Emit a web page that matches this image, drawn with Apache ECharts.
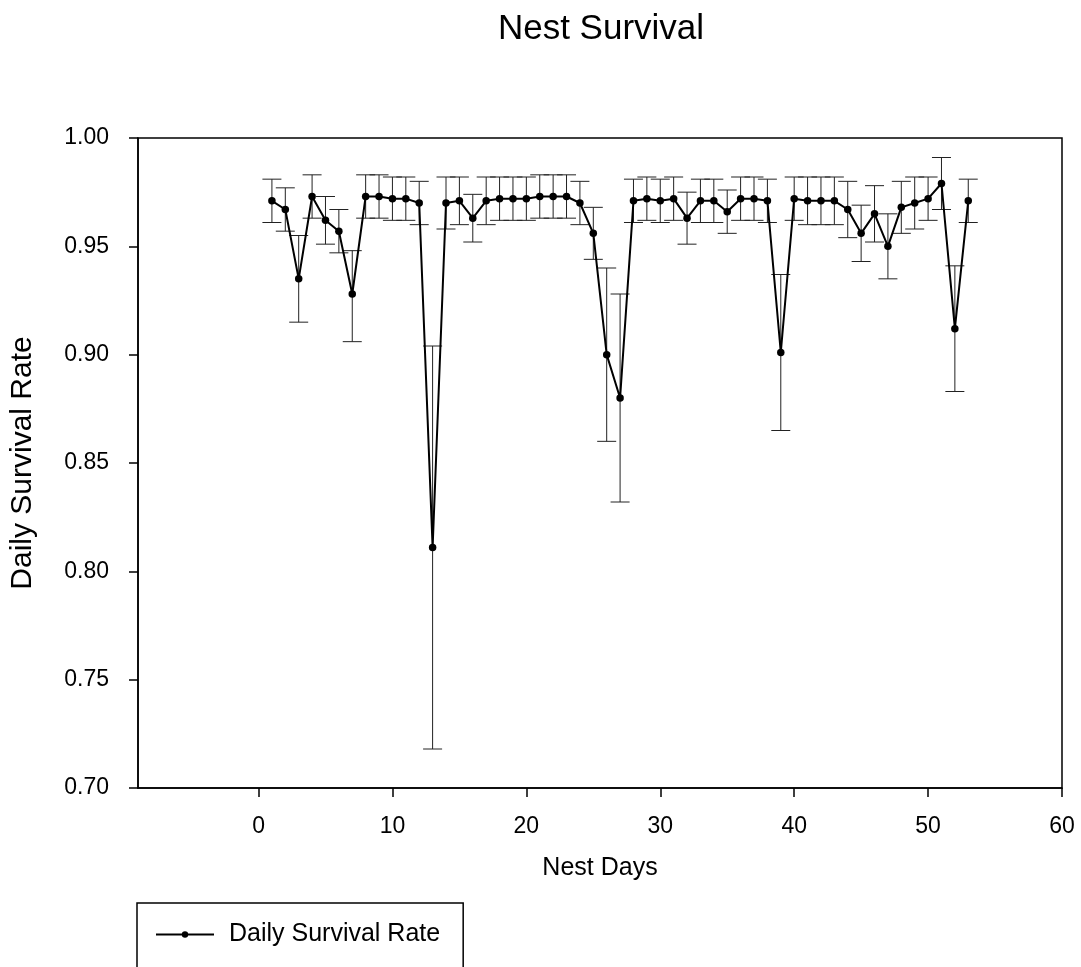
<!DOCTYPE html>
<html>
<head>
<meta charset="utf-8">
<script src="https://cdn.jsdelivr.net/npm/echarts@6/dist/echarts.min.js"></script>
<style>
html,body{margin:0;padding:0;background:#fff;}
#chart{width:1081px;height:967px;}
</style>
</head>
<body>
<div id="chart"></div>
<script>
const days = [1,2,3,4,5,6,7,8,9,10,11,12,13,14,15,16,17,18,19,20,21,22,23,24,25,26,27,28,29,30,31,32,33,34,35,36,37,38,39,40,41,42,43,44,45,46,47,48,49,50,51,52,53];
const dsr = [0.971,0.967,0.935,0.973,0.962,0.957,0.928,0.973,0.973,0.972,0.972,0.970,0.811,0.970,0.971,0.963,0.971,0.972,0.972,0.972,0.973,0.973,0.973,0.970,0.956,0.900,0.880,0.971,0.972,0.971,0.972,0.963,0.971,0.971,0.966,0.972,0.972,0.971,0.901,0.972,0.971,0.971,0.971,0.967,0.956,0.965,0.950,0.968,0.970,0.972,0.979,0.912,0.971];
const upper = [0.981,0.977,0.955,0.983,0.973,0.967,0.948,0.983,0.983,0.982,0.982,0.980,0.904,0.982,0.982,0.974,0.982,0.982,0.982,0.982,0.983,0.983,0.983,0.980,0.968,0.940,0.928,0.981,0.982,0.981,0.982,0.975,0.981,0.981,0.976,0.982,0.982,0.981,0.937,0.982,0.982,0.982,0.982,0.980,0.969,0.978,0.965,0.980,0.982,0.982,0.991,0.941,0.981];
const lower = [0.961,0.957,0.915,0.963,0.951,0.947,0.906,0.963,0.963,0.962,0.962,0.960,0.718,0.958,0.960,0.952,0.960,0.962,0.962,0.962,0.963,0.963,0.963,0.960,0.944,0.860,0.832,0.961,0.962,0.961,0.962,0.951,0.961,0.961,0.956,0.962,0.962,0.961,0.865,0.962,0.960,0.960,0.960,0.954,0.943,0.952,0.935,0.956,0.958,0.962,0.967,0.883,0.961];
const xTicks = [0,10,20,30,40,50,60];
const titleText = 'Nest Survival';
const xName = 'Nest Days';
const yName = 'Daily Survival Rate';
const seriesName = 'Daily Survival Rate';

const FONT = '"Liberation Sans", Arial, Helvetica, sans-serif';
const chart = echarts.init(document.getElementById('chart'), null, {renderer:'canvas'});
const lineData = days.map((d,i)=>[d, dsr[i]]);
const errData = days.map((d,i)=>[d, lower[i], upper[i]]);

chart.setOption({
  animation:false,
  backgroundColor:'#fff',
  title:{
    text:titleText, left:596, top:7, textAlign:'center',
    textStyle:{fontFamily:FONT, fontSize:35, fontWeight:'normal', color:'#000'}
  },
  grid:{left:137, right:19, top:138, bottom:179, show:true, borderColor:'#000', borderWidth:1.5, backgroundColor:'transparent', containLabel:false},
  legend:{
    data:[seriesName], left:137, top:903, orient:'horizontal',
    padding:[19,23,60,18],
    borderColor:'#000', borderWidth:1.5, borderRadius:0,
    itemWidth:58, itemHeight:8,
    textStyle:{fontFamily:FONT, fontSize:25, color:'#000', padding:[0,0,0,10]},
    selectedMode:false
  },
  xAxis:{
    type:'value', min:-9, max:60,
    name:xName, nameLocation:'middle', nameGap:68,
    nameTextStyle:{fontFamily:FONT, fontSize:25, color:'#000'},
    axisLine:{show:true, onZero:false, lineStyle:{color:'#000', width:1.5}},
    axisTick:{show:true, inside:false, length:9, customValues:xTicks, lineStyle:{color:'#000', width:1.5}},
    axisLabel:{show:true, margin:27, customValues:xTicks, fontFamily:FONT, fontSize:23, color:'#000'},
    splitLine:{show:false}
  },
  yAxis:{
    type:'value', min:0.70, max:1.00, interval:0.05,
    name:yName, nameLocation:'middle', nameGap:100, nameRotate:90,
    nameTextStyle:{fontFamily:FONT, fontSize:30, color:'#000'},
    axisLine:{show:true, onZero:false, lineStyle:{color:'#000', width:1.5}},
    axisTick:{show:true, inside:false, length:9, lineStyle:{color:'#000', width:1.5}},
    axisLabel:{show:true, margin:29, fontFamily:FONT, fontSize:23, color:'#000', formatter:v=>v.toFixed(2)},
    splitLine:{show:false}
  },
  series:[
    {
      type:'custom', name:'err', z:1, silent:true,
      data:errData,
      renderItem:function(params, api){
        const x = api.value(0);
        const lo = api.coord([x, api.value(1)]);
        const hi = api.coord([x, api.value(2)]);
        const hw = 9.5;
        const st = {stroke:'#222', lineWidth:1};
        return {type:'group', children:[
          {type:'line', shape:{x1:lo[0], y1:lo[1], x2:hi[0], y2:hi[1]}, style:st},
          {type:'line', shape:{x1:lo[0]-hw, y1:lo[1], x2:lo[0]+hw, y2:lo[1]}, style:st},
          {type:'line', shape:{x1:hi[0]-hw, y1:hi[1], x2:hi[0]+hw, y2:hi[1]}, style:st}
        ]};
      }
    },
    {
      type:'line', name:seriesName, z:3, data:lineData,
      symbol:'circle', symbolSize:7.5, showSymbol:true,
      itemStyle:{color:'#000'}, lineStyle:{color:'#000', width:2},
      emphasis:{disabled:true}
    }
  ]
});
</script>
</body>
</html>
